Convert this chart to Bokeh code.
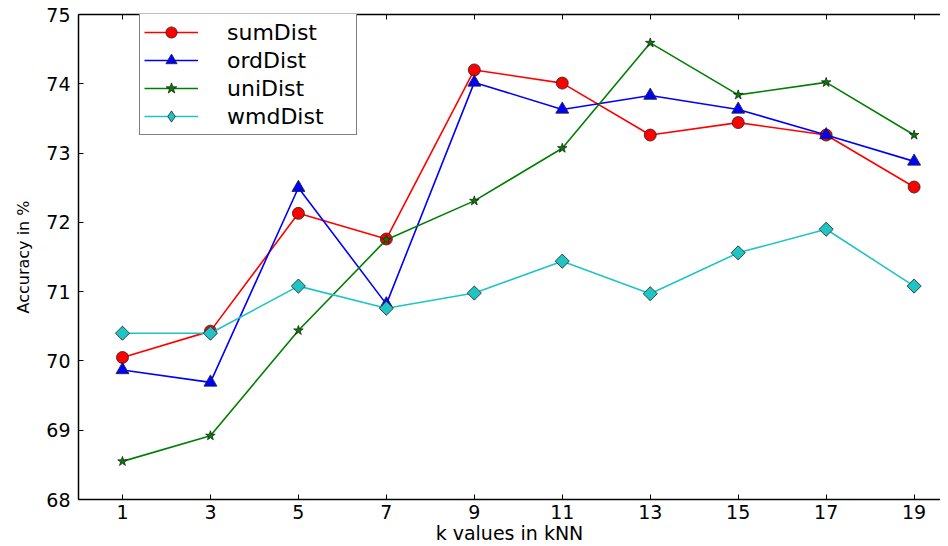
import math
from bokeh.plotting import figure
from bokeh.models import LinearAxis, FixedTicker, Range1d, Legend, LegendItem
from bokeh.embed import file_html
from bokeh.resources import INLINE

k_values = [1, 3, 5, 7, 9, 11, 13, 15, 17, 19]
sum_dist = [70.05, 70.43, 72.13, 71.76, 74.20, 74.01, 73.26, 73.44, 73.26, 72.51]
ord_dist = [69.87, 69.69, 72.50, 70.82, 74.02, 73.63, 73.83, 73.63, 73.26, 72.88]
uni_dist = [68.55, 68.92, 70.44, 71.75, 72.31, 73.07, 74.59, 73.84, 74.02, 73.26]
wmd_dist = [70.40, 70.40, 71.08, 70.76, 70.98, 71.44, 70.97, 71.56, 71.90, 71.08]
y_ticks = [68, 69, 70, 71, 72, 73, 74, 75]

FONT = "DejaVu Sans"

p = figure(frame_width=862, frame_height=485, output_backend="svg", toolbar_location=None,
           x_range=Range1d(0, 19.6), y_range=Range1d(68, 75),
           min_border_left=78, min_border_right=0, min_border_top=14, min_border_bottom=0)
p.outline_line_color = None
p.grid.visible = False
p.background_fill_color = "white"

for ax in (p.xaxis[0], p.yaxis[0]):
    ax.axis_line_color = "black"
    ax.axis_line_width = 1.5
    ax.major_tick_in = 5
    ax.major_tick_out = 0
    ax.minor_tick_line_color = None
    ax.major_tick_line_color = "black"
    ax.major_label_text_font = FONT
    ax.major_label_text_font_size = "19px"
    ax.major_label_text_color = "black"
    ax.axis_label_text_font = FONT
    ax.axis_label_text_font_style = "normal"
    ax.axis_label_text_color = "black"

p.xaxis.ticker = FixedTicker(ticks=k_values)
p.yaxis.ticker = FixedTicker(ticks=y_ticks)
p.xaxis.axis_label = "k values in kNN"
p.yaxis.axis_label = "Accuracy in %"
p.xaxis.axis_label_text_font_size = "19px"
p.yaxis.axis_label_text_font_size = "16px"
p.xaxis.major_label_standoff = 5
p.yaxis.major_label_standoff = 8
p.xaxis.axis_label_standoff = 0
p.yaxis.axis_label_standoff = 10

top = LinearAxis(ticker=FixedTicker(ticks=k_values))
top.axis_line_color = "black"
top.axis_line_width = 1.5
top.major_tick_in = 5
top.major_tick_out = 0
top.minor_tick_line_color = None
top.major_label_text_font_size = "0px"
top.major_label_standoff = 0
top.major_label_text_color = None
p.add_layout(top, "above")

series = [
    ("sumDist", sum_dist, "#ff0000", "circle", 12, 0.0, "circle", 12),
    ("ordDist", ord_dist, "#0000ff", "triangle", 13, 0.0, "triangle", 13),
    ("uniDist", uni_dist, "#007f00", "star", 10, 0.0, "star", 10),
    ("wmdDist", wmd_dist, "#20c4c4", "square", 10, math.pi / 4, "diamond", 13),
]

items = []
for name, vals, color, marker, size, ang, lg_marker, lg_size in series:
    ln = p.line(k_values, vals, line_color=color, line_width=1.6)
    lg = None
    if lg_marker != marker:
        # legend-only diamond drawn under the rotated squares (hidden by them)
        lg = p.scatter(k_values, vals, marker=lg_marker, size=lg_size, fill_color=color,
                       line_color="#222222", line_width=0.8)
    mk = p.scatter(k_values, vals, marker=marker, size=size, angle=ang, fill_color=color,
                   line_color="#222222", line_width=0.8)
    if lg is None:
        lg = mk
    items.append(LegendItem(label=name, renderers=[ln, lg]))

legend = Legend(items=items, location=(61, 364))
legend.border_line_color = "black"
legend.border_line_width = 1.5
legend.background_fill_alpha = 1
legend.label_text_font = FONT
legend.label_text_font_size = "22px"
legend.label_text_color = "black"
legend.glyph_width = 54
legend.glyph_height = 28
legend.label_height = 28
legend.label_width = 125
legend.label_standoff = 29
legend.padding = 4
legend.spacing = 0
legend.margin = 0
p.add_layout(legend, "center")

open("out.html", "w").write(file_html(p, INLINE))
